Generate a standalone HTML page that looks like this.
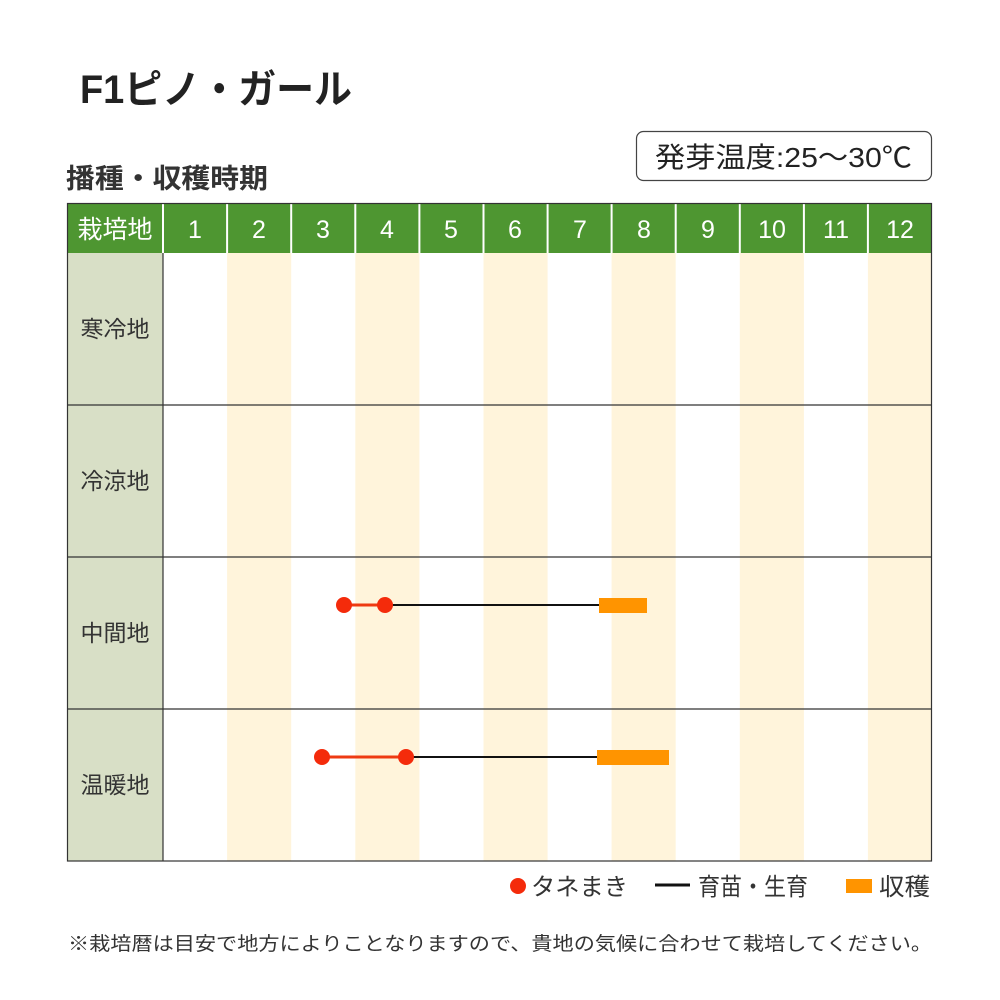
<!DOCTYPE html>
<html><head><meta charset="utf-8"><style>
html,body{margin:0;padding:0;background:#fff;}
svg{display:block;}
text{font-family:"Liberation Sans","Noto Sans CJK JP",sans-serif;}
</style></head><body>
<svg width="1000" height="1000" viewBox="0 0 1000 1000" xmlns="http://www.w3.org/2000/svg">
<text x="80" y="103" font-size="40" fill="#222" font-weight="bold" textLength="272" lengthAdjust="spacingAndGlyphs">F1ピノ・ガール</text>
<text x="66" y="188" font-size="27" font-weight="bold" fill="#333" textLength="202" lengthAdjust="spacingAndGlyphs">播種・収穫時期</text>
<rect x="636.5" y="131.5" width="295" height="49" rx="7" fill="#fff" stroke="#444" stroke-width="1.2"/>
<text x="655" y="167" font-size="28" fill="#222" textLength="257" lengthAdjust="spacingAndGlyphs">発芽温度:25〜30℃</text>
<rect x="67" y="253" width="96" height="608" fill="#d8dfc6"/>
<g fill="#fff4db">
<rect x="227.1" y="253" width="64.1" height="608"/>
<rect x="355.3" y="253" width="64.1" height="608"/>
<rect x="483.5" y="253" width="64.1" height="608"/>
<rect x="611.6" y="253" width="64.1" height="608"/>
<rect x="739.8" y="253" width="64.1" height="608"/>
<rect x="867.9" y="253" width="64.1" height="608"/>
</g>
<rect x="67" y="203" width="865" height="50" fill="#4e9631"/>
<g stroke="#fff" stroke-width="2">
<line x1="163" y1="203" x2="163" y2="253"/><line x1="227.1" y1="203" x2="227.1" y2="253"/><line x1="291.2" y1="203" x2="291.2" y2="253"/><line x1="355.3" y1="203" x2="355.3" y2="253"/><line x1="419.4" y1="203" x2="419.4" y2="253"/><line x1="483.5" y1="203" x2="483.5" y2="253"/><line x1="547.6" y1="203" x2="547.6" y2="253"/><line x1="611.6" y1="203" x2="611.6" y2="253"/><line x1="675.7" y1="203" x2="675.7" y2="253"/><line x1="739.8" y1="203" x2="739.8" y2="253"/><line x1="803.9" y1="203" x2="803.9" y2="253"/><line x1="867.9" y1="203" x2="867.9" y2="253"/>
</g>
<g font-size="25" fill="#fff" text-anchor="middle">
<text x="115" y="238">栽培地</text>
<text x="195" y="238">1</text><text x="259" y="238">2</text><text x="323" y="238">3</text><text x="387" y="238">4</text><text x="451" y="238">5</text><text x="515" y="238">6</text><text x="580" y="238">7</text><text x="644" y="238">8</text><text x="708" y="238">9</text><text x="772" y="238">10</text><text x="836" y="238">11</text><text x="900" y="238">12</text>
</g>
<g stroke="#333" stroke-width="1.2" fill="none">
<rect x="67.5" y="203.5" width="864" height="657.5"/>
<line x1="67" y1="405" x2="932" y2="405"/>
<line x1="67" y1="557" x2="932" y2="557"/>
<line x1="67" y1="709" x2="932" y2="709"/>
<line x1="163" y1="253" x2="163" y2="861"/>
</g>
<g font-size="23" fill="#333" text-anchor="middle">
<text x="115" y="337">寒冷地</text>
<text x="115" y="489">冷涼地</text>
<text x="115" y="641">中間地</text>
<text x="115" y="793">温暖地</text>
</g>
<line x1="385" y1="605" x2="599" y2="605" stroke="#111" stroke-width="2"/>
<line x1="344" y1="605" x2="385" y2="605" stroke="#ee3a12" stroke-width="3"/>
<circle cx="344" cy="605" r="8" fill="#f42b0b"/><circle cx="385" cy="605" r="8" fill="#f42b0b"/>
<rect x="599" y="598" width="48" height="15" fill="#ff9400"/>
<line x1="406" y1="757" x2="597" y2="757" stroke="#111" stroke-width="2"/>
<line x1="322" y1="757" x2="406" y2="757" stroke="#ee3a12" stroke-width="3"/>
<circle cx="322" cy="757" r="8" fill="#f42b0b"/><circle cx="406" cy="757" r="8" fill="#f42b0b"/>
<rect x="597" y="750" width="72" height="15" fill="#ff9400"/>
<circle cx="518" cy="886" r="8" fill="#f42b0b"/>
<text x="531" y="895" font-size="24" fill="#333" textLength="97" lengthAdjust="spacingAndGlyphs">タネまき</text>
<line x1="655" y1="885" x2="690" y2="885" stroke="#111" stroke-width="3"/>
<text x="698" y="895" font-size="24" fill="#333" textLength="110" lengthAdjust="spacingAndGlyphs">育苗・生育</text>
<rect x="846" y="879" width="26" height="14" fill="#ff9400"/>
<text x="879" y="895" font-size="24" fill="#333" textLength="51" lengthAdjust="spacingAndGlyphs">収穫</text>
<text x="68" y="950" font-size="19" fill="#333" textLength="864" lengthAdjust="spacingAndGlyphs">※栽培暦は目安で地方によりことなりますので、貴地の気候に合わせて栽培してください。</text>
</svg>
</body></html>
